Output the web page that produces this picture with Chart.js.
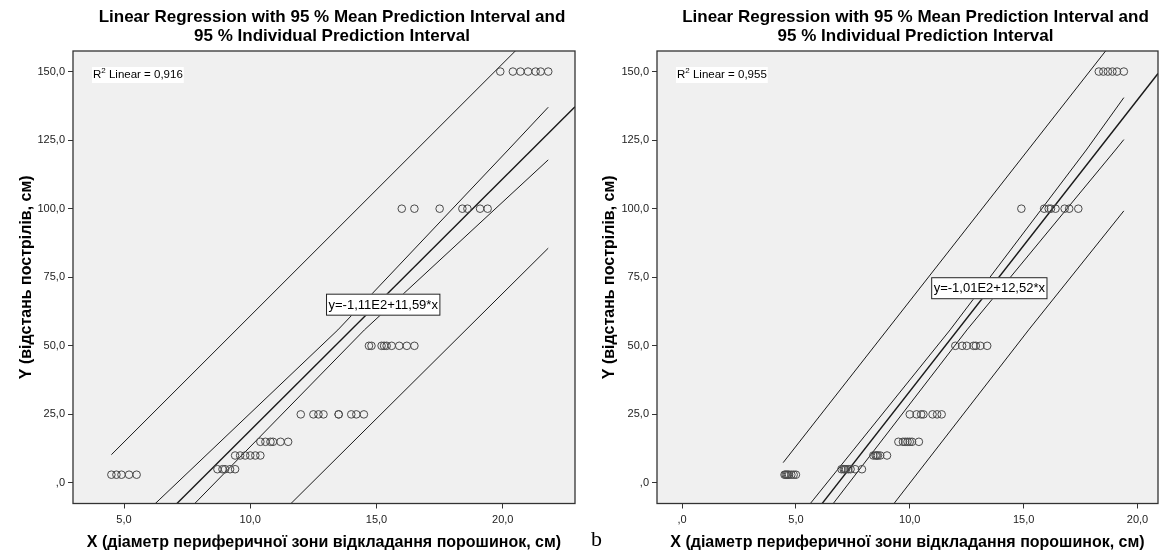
<!DOCTYPE html>
<html>
<head>
<meta charset="utf-8">
<script src="https://cdn.jsdelivr.net/npm/chart.js@4.4.1/dist/chart.umd.min.js"></script>
<style>
  body { margin: 0; background: #fff; width: 1165px; height: 555px; overflow: hidden; position: relative; }
  canvas { position: absolute; top: 0; }
  #leftChart { left: 0; }
  #rightChart { left: 582px; }
  #panelLetter { position: absolute; left: 591px; top: 526px; font: 22px "Liberation Serif", serif; color: #000; }
</style>
</head>
<body>
<canvas id="leftChart" width="582" height="555"></canvas>
<canvas id="rightChart" width="583" height="555"></canvas>
<div id="panelLetter">b</div>
<script>
const titleLines = ['Linear Regression with 95 % Mean Prediction Interval and', '95 % Individual Prediction Interval'];
const yTitle = 'Y (відстань пострілів, см)';
const xTitle = 'X (діаметр периферичної зони відкладання порошинок, см)';
const yTicks = [0, 25, 50, 75, 100, 125, 150];
const yLevels = [3, 5, 10, 15, 25, 50, 100, 150];

// left panel
const leftTicksX = [5, 10, 15, 20];
const leftXByLevel = [
  [4.5, 4.7, 4.9, 5.2, 5.5],
  [8.7, 8.9, 9.0, 9.2, 9.4],
  [9.4, 9.6, 9.8, 10.0, 10.2, 10.4],
  [10.4, 10.6, 10.8, 10.9, 11.2, 11.5],
  [12.0, 12.5, 12.7, 12.9, 13.5, 13.5, 14.0, 14.2, 14.5],
  [14.7, 14.8, 15.2, 15.3, 15.4, 15.6, 15.9, 16.2, 16.5],
  [16.0, 16.5, 17.5, 18.4, 18.6, 19.1, 19.4],
  [19.9, 20.4, 20.7, 21.0, 21.3, 21.5, 21.8]
];
const leftRegX = [3.0, 22.86];
const leftRegY = [-45.1, 137.2];
const leftUpperCIX = [4.5, 6.39, 13.47, 20.21, 21.8];
const leftUpperCIY = [-22.7, -6.2, 55.8, 121.4, 137.0];
const leftLowerCIX = [4.5, 7.94, 14.52, 21.8];
const leftLowerCIY = [-38.6, -6.2, 55.8, 117.8];
const leftUpperPIX = [4.5, 21.8];
const leftUpperPIY = [10.3, 169.5];
const leftLowerPIX = [4.5, 21.8];
const leftLowerPIY = [-72.5, 85.6];

// right panel (b)
const rightTicksX = [0, 5, 10, 15, 20];
const rightXByLevel = [
  [4.5, 4.55, 4.6, 4.65, 4.7, 4.8, 4.9, 5.0],
  [7.0, 7.1, 7.15, 7.2, 7.3, 7.4, 7.6, 7.9],
  [8.4, 8.5, 8.55, 8.6, 8.7, 9.0],
  [9.5, 9.7, 9.8, 9.9, 10.0, 10.1, 10.4],
  [10.0, 10.3, 10.5, 10.6, 11.0, 11.2, 11.4],
  [12.0, 12.3, 12.5, 12.8, 12.9, 13.1, 13.4],
  [14.9, 15.9, 16.1, 16.2, 16.4, 16.8, 17.0, 17.4],
  [18.3, 18.5, 18.7, 18.9, 19.1, 19.4]
];
const rightRegX = [-1.1, 20.9];
const rightRegY = [-84.6, 149.3];
const rightUpperCIX = [4.5, 5.76, 11.77, 17.75, 19.4];
const rightUpperCIY = [-19.2, -6.2, 55.8, 121.4, 140.5];
const rightLowerCIX = [4.5, 6.76, 12.51, 19.03, 19.4];
const rightLowerCIY = [-30.6, -6.2, 55.8, 121.4, 125.2];
const rightUpperPIX = [4.44, 19.4];
const rightUpperPIY = [7.4, 166];
const rightLowerPIX = [4.5, 9.43, 15.22, 19.4];
const rightLowerPIY = [-59, -6.2, 55.8, 99.2];

const FONT = '"Liberation Sans", Arial, sans-serif';

function toPoints(xs, ys) {
  return xs.map((x, i) => ({ x: x, y: ys[i] }));
}

function scatterPoints(xByLevel) {
  const pts = [];
  xByLevel.forEach((xs, i) => xs.forEach(x => pts.push({ x: x, y: yLevels[i] })));
  return pts;
}

function fmt(v) {
  return v === 0 ? ',0' : v.toFixed(1).replace('.', ',');
}

function lineSet(xs, ys, width) {
  return {
    data: toPoints(xs, ys),
    showLine: true,
    borderColor: '#1a1a1a',
    borderWidth: width || 1,
    pointRadius: 0,
    fill: false
  };
}

// plot background, frame, title, R² text and equation box
const panelDecor = {
  id: 'panelDecor',
  beforeDraw(chart) {
    const { ctx, chartArea: a } = chart;
    ctx.save();
    ctx.fillStyle = '#f0f0f0';
    ctx.fillRect(a.left, a.top, a.right - a.left, a.bottom - a.top);
    ctx.restore();
  },
  afterDraw(chart, args, opts) {
    const { ctx, chartArea: a, scales } = chart;
    ctx.save();
    ctx.strokeStyle = '#333';
    ctx.lineWidth = 1.3;
    ctx.strokeRect(a.left, a.top, a.right - a.left, a.bottom - a.top);

    // chart title, centred a little right of the plot centre
    ctx.fillStyle = '#000';
    ctx.textAlign = 'center';
    ctx.textBaseline = 'middle';
    ctx.font = 'bold 17px ' + FONT;
    const cx = (a.left + a.right) / 2 + 8;
    titleLines.forEach((t, i) => ctx.fillText(t, cx, 17 + i * 19.2));

    // R² Linear label
    ctx.textAlign = 'left';
    const lx = a.left + 20, ly = a.top + 24;
    ctx.font = '11.5px ' + FONT;
    const w1 = ctx.measureText('R').width;
    ctx.font = '8px ' + FONT;
    const w2 = ctx.measureText('2').width;
    ctx.font = '11.5px ' + FONT;
    const rest = ' Linear = ' + opts.r2;
    const w3 = ctx.measureText(rest).width;
    ctx.fillStyle = '#fff';
    ctx.fillRect(lx - 1, ly - 8, w1 + w2 + w3 + 2, 16);
    ctx.fillStyle = '#000';
    ctx.fillText('R', lx, ly);
    ctx.font = '8px ' + FONT;
    ctx.fillText('2', lx + w1, ly - 4);
    ctx.font = '11.5px ' + FONT;
    ctx.fillText(rest, lx + w1 + w2, ly);

    // equation box
    const bx = scales.x.getPixelForValue(opts.eqAt[0]);
    const by = scales.y.getPixelForValue(opts.eqAt[1]);
    ctx.font = '13px ' + FONT;
    const tw = ctx.measureText(opts.eq).width;
    ctx.fillStyle = '#fff';
    ctx.fillRect(bx, by - 11, tw + 5, 22);
    ctx.strokeStyle = '#222';
    ctx.lineWidth = 1;
    ctx.strokeRect(bx + 0.5, by - 10.5, tw + 4, 21);
    ctx.fillStyle = '#000';
    ctx.fillText(opts.eq, bx + 2.5, by + 0.5);
    ctx.restore();
  }
};

function buildChart(canvasId, cfg) {
  return new Chart(document.getElementById(canvasId), {
    type: 'scatter',
    data: {
      datasets: [
        {
          data: scatterPoints(cfg.xByLevel),
          pointStyle: 'circle',
          pointRadius: 3.8,
          pointBorderWidth: 1,
          pointBorderColor: '#4a4a4a',
          pointBackgroundColor: 'rgba(0,0,0,0)'
        },
        lineSet(cfg.upperPI[0], cfg.upperPI[1]),
        lineSet(cfg.upperCI[0], cfg.upperCI[1]),
        lineSet(cfg.reg[0], cfg.reg[1], 1.4),
        lineSet(cfg.lowerCI[0], cfg.lowerCI[1]),
        lineSet(cfg.lowerPI[0], cfg.lowerPI[1])
      ]
    },
    options: {
      responsive: false,
      animation: false,
      devicePixelRatio: 1,
      layout: { padding: { left: 0, right: cfg.padRight, top: 51, bottom: 0 } },
      plugins: {
        legend: { display: false },
        tooltip: { enabled: false },
        title: { display: false },
        panelDecor: { r2: cfg.r2, eq: cfg.eq, eqAt: cfg.eqAt }
      },
      scales: {
        x: {
          type: 'linear',
          min: cfg.xRange[0],
          max: cfg.xRange[1],
          afterBuildTicks: s => { s.ticks = cfg.xTicks.map(v => ({ value: v })); },
          afterFit: s => { s.height = 51.5; },
          grid: { drawOnChartArea: false, drawTicks: true, tickLength: 5, color: '#333' },
          border: { display: false },
          ticks: { color: '#222', font: { family: FONT, size: 11 }, padding: 5, callback: fmt, maxRotation: 0 },
          title: { display: true, text: xTitle, color: '#000', font: { family: FONT, size: 16, weight: 'bold', lineHeight: 1.2 }, padding: { bottom: 2.4 } }
        },
        y: {
          type: 'linear',
          min: -7.5,
          max: 157.5,
          afterBuildTicks: s => { s.ticks = yTicks.map(v => ({ value: v })); },
          afterFit: s => { s.width = cfg.yAxisWidth; },
          grid: { drawOnChartArea: false, drawTicks: true, tickLength: 5, color: '#333' },
          border: { display: false },
          ticks: { color: '#222', font: { family: FONT, size: 11 }, padding: 3, callback: fmt },
          title: { display: true, text: yTitle, color: '#000', font: { family: FONT, size: 16, weight: 'bold', lineHeight: 1.2 }, padding: { top: cfg.yTitlePad } }
        }
      }
    },
    plugins: [panelDecor]
  });
}

buildChart('leftChart', {
  xByLevel: leftXByLevel,
  xTicks: leftTicksX,
  xRange: [2.98, 22.86],
  reg: [leftRegX, leftRegY],
  upperCI: [leftUpperCIX, leftUpperCIY],
  lowerCI: [leftLowerCIX, leftLowerCIY],
  upperPI: [leftUpperPIX, leftUpperPIY],
  lowerPI: [leftLowerPIX, leftLowerPIY],
  r2: '0,916',
  eq: 'y=-1,11E2+11,59*x',
  eqAt: [13.0, 65],
  yAxisWidth: 73,
  yTitlePad: 17.4,
  padRight: 7
});

buildChart('rightChart', {
  xByLevel: rightXByLevel,
  xTicks: rightTicksX,
  xRange: [-1.1, 20.9],
  reg: [rightRegX, rightRegY],
  upperCI: [rightUpperCIX, rightUpperCIY],
  lowerCI: [rightLowerCIX, rightLowerCIY],
  upperPI: [rightUpperPIX, rightUpperPIY],
  lowerPI: [rightLowerPIX, rightLowerPIY],
  r2: '0,955',
  eq: 'y=-1,01E2+12,52*x',
  eqAt: [10.94, 71],
  yAxisWidth: 75,
  yTitlePad: 18.4,
  padRight: 7
});
</script>
</body>
</html>
